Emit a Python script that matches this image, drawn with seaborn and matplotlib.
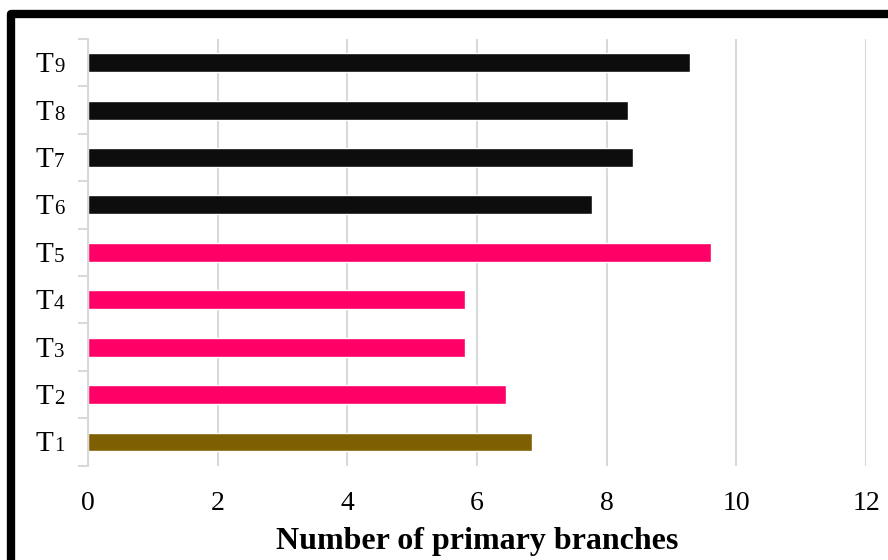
import matplotlib
matplotlib.use("Agg")
import matplotlib.pyplot as plt
import seaborn as sns
from matplotlib.patches import Rectangle
from matplotlib.ticker import FixedLocator

treatments = ["T1", "T2", "T3", "T4", "T5", "T6", "T7", "T8", "T9"]
branches = [6.85, 6.45, 5.82, 5.82, 9.61, 7.77, 8.41, 8.33, 9.29]
bar_colors = ["#7f6000", "#ff0066", "#ff0066", "#ff0066", "#ff0066",
              "#0d0d0d", "#0d0d0d", "#0d0d0d", "#0d0d0d"]
x_ticks = [0, 2, 4, 6, 8, 10, 12]

sns.set_style("white")
plt.rcParams["font.family"] = ["Liberation Serif", "DejaVu Serif"]
plt.rcParams["text.color"] = "black"
plt.rcParams["axes.labelcolor"] = "black"

fig = plt.figure(figsize=(8.88, 5.6), dpi=100)
ax = fig.add_axes([88 / 888, 1 - 465.7 / 560, (866 - 88) / 888, (465.7 - 39) / 560])

order = treatments[::-1]
palette = dict(zip(treatments, bar_colors))
sns.barplot(x=branches, y=treatments, hue=treatments, palette=palette,
            order=order, hue_order=order, orient="h", width=0.4,
            saturation=1, legend=False, ax=ax)

ax.set_xlim(0, 12)
ax.set_ylim(len(order) - 0.5, -0.5)
ax.set_xticks(x_ticks)
ax.set_xticklabels([str(t) for t in x_ticks], fontsize=20)
ax.xaxis.grid(True, color="#d9d9d9", linewidth=1.5)
ax.yaxis.grid(False)
ax.set_axisbelow(True)

# category boundary ticks on the y axis
ax.yaxis.set_minor_locator(FixedLocator([i - 0.5 for i in range(len(order) + 1)]))
ax.tick_params(axis="y", which="minor", length=7, width=1.5, color="#d9d9d9", left=True)
ax.tick_params(axis="y", which="major", length=0, labelleft=False)
ax.tick_params(axis="x", which="major", length=0, pad=18, labelcolor="black")

# category labels: "T" with a small baseline digit, as in the source
ytrans = ax.get_yaxis_transform()
for i, name in enumerate(order):
    ax.text(-35 / 778, i + 0.2, name[0], transform=ytrans, ha="right",
            va="baseline", fontsize=21, color="black")
    ax.text(-34 / 778, i + 0.2, name[1:], transform=ytrans, ha="left",
            va="baseline", fontsize=15, color="black")

for side in ["top", "right", "bottom"]:
    ax.spines[side].set_visible(False)
ax.spines["left"].set_color("#d9d9d9")
ax.spines["left"].set_linewidth(1.5)

ax.set_ylabel("")
ax.set_xlabel("Number of primary branches", fontsize=23, fontweight="bold", labelpad=8)

# thick outer frame (right and bottom edges fall outside the canvas)
frame = Rectangle((11 / 888, -0.1), 1.2, 1 - 14 / 560 + 0.1, transform=fig.transFigure,
                  fill=False, edgecolor="black", linewidth=6, joinstyle="round",
                  clip_on=False)
fig.patches.append(frame)

fig.savefig("out.png", dpi=100)
